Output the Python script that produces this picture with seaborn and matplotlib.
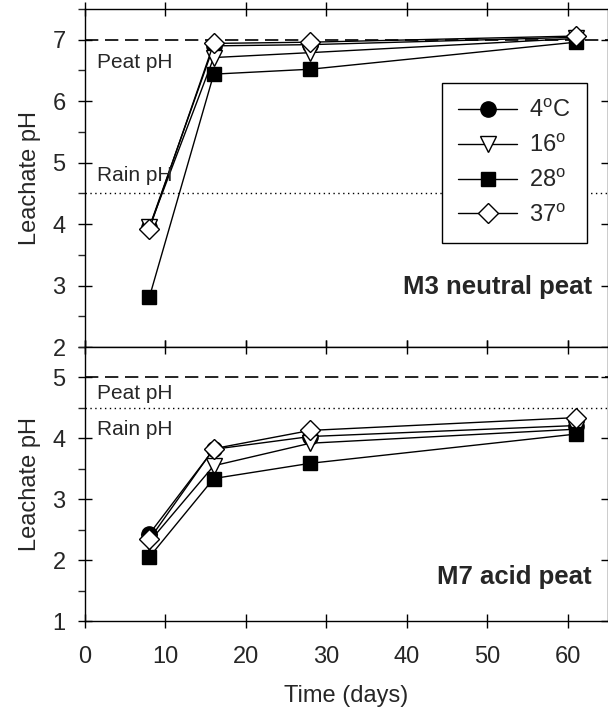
import matplotlib
matplotlib.use("Agg")
import matplotlib.pyplot as plt
import seaborn as sns
import pandas as pd
from matplotlib.ticker import MultipleLocator

# Sampling days
days = [8, 16, 28, 61]

# Series labels
temps = ["4$^{\\mathrm{o}}$C", "16$^{\\mathrm{o}}$", "28$^{\\mathrm{o}}$", "37$^{\\mathrm{o}}$"]

# M3 neutral peat leachate pH
m3_4 = [3.95, 6.90, 6.92, 7.04]
m3_16 = [3.95, 6.71, 6.79, 7.02]
m3_28 = [2.81, 6.44, 6.52, 6.96]
m3_37 = [3.92, 6.94, 6.96, 7.06]

# M7 acid peat leachate pH
m7_4 = [2.43, 3.82, 4.03, 4.21]
m7_16 = [2.30, 3.55, 3.92, 4.15]
m7_28 = [2.05, 3.34, 3.59, 4.07]
m7_37 = [2.34, 3.83, 4.13, 4.34]

# Reference pH levels
m3_peat_ph, m3_rain_ph = 7.0, 4.5
m7_peat_ph, m7_rain_ph = 5.0, 4.5

sns.set_theme(style="ticks")
plt.rcParams["font.family"] = ["Liberation Sans", "DejaVu Sans"]
plt.rcParams["mathtext.fontset"] = "custom"
plt.rcParams["mathtext.rm"] = "Liberation Sans"

FS = 17

markers = [
    dict(marker="o", markerfacecolor="black", markersize=11),
    dict(marker="v", markerfacecolor="white", markersize=11),
    dict(marker="s", markerfacecolor="black", markersize=10),
    dict(marker="D", markerfacecolor="white", markersize=10),
]

fig = plt.figure(figsize=(6.08, 7.13), dpi=100)
ax1 = fig.add_axes([85 / 608, 1 - 347 / 713, 1 - 85 / 608, (347 - 9) / 713])
ax2 = fig.add_axes([85 / 608, 1 - 621 / 713, 1 - 85 / 608, (621 - 347) / 713])


def draw_panel(ax, series, peat, rain, ylim, label, peat_y, rain_y, label_y):
    ax.axhline(peat, color="black", lw=1.2, ls=(0, (8, 4)), zorder=1)
    ax.axhline(rain, color="black", lw=1.0, ls=(0, (1, 2.5)), zorder=1)
    for vals, name, mk in zip(series, temps, markers):
        df = pd.DataFrame({"day": days, "ph": vals})
        sns.lineplot(data=df, x="day", y="ph", ax=ax, color="black", lw=1.0,
                     markeredgecolor="black", markeredgewidth=1.0,
                     label=name, zorder=3, **mk)
    ax.text(1.5, peat_y, "Peat pH", fontsize=15, va="center", ha="left")
    ax.text(1.5, rain_y, "Rain pH", fontsize=15, va="center", ha="left")
    ax.text(63.0, label_y, label, fontsize=18.5, fontweight="bold",
            va="center", ha="right")
    ax.set_xlim(0, 65)
    ax.set_ylim(*ylim)
    ax.xaxis.set_major_locator(MultipleLocator(10))
    ax.yaxis.set_major_locator(MultipleLocator(1))
    ax.yaxis.set_minor_locator(MultipleLocator(0.5))
    ax.tick_params(axis="both", which="major", direction="inout", length=10,
                   width=1, labelsize=FS, top=True, right=True, color="black")
    ax.tick_params(axis="y", which="major", pad=9)
    ax.tick_params(axis="x", which="major", pad=13)
    ax.tick_params(axis="y", which="minor", direction="out", length=5,
                   width=1, right=True, left=True)
    for sp in ax.spines.values():
        sp.set_color("black")
        sp.set_linewidth(1.0)
    ax.set_ylabel("Leachate pH", fontsize=FS, labelpad=8)
    ax.set_facecolor("white")


draw_panel(ax1, [m3_4, m3_16, m3_28, m3_37], m3_peat_ph, m3_rain_ph,
           (2, 7.5), "M3 neutral peat", 6.63, 4.79, 2.98)
draw_panel(ax2, [m7_4, m7_16, m7_28, m7_37], m7_peat_ph, m7_rain_ph,
           (1, 5.5), "M7 acid peat", 4.74, 4.15, 1.72)

ax1.set_xlabel("")
ax1.tick_params(axis="x", labelbottom=False)
ax2.set_xlabel("Time (days)", fontsize=FS, labelpad=12)

leg = ax1.legend(loc="upper right",
                 bbox_to_anchor=((587 - 85) / 523, 1 - (83 - 9) / 338),
                 borderaxespad=0, fontsize=FS, frameon=True, fancybox=False,
                 framealpha=1, edgecolor="black", handlelength=2.5,
                 labelspacing=0.5, borderpad=0.7, handletextpad=0.5)
leg.get_frame().set_linewidth(1.0)
ax2.get_legend().remove()

fig.savefig("out.png", dpi=100, facecolor="white")
